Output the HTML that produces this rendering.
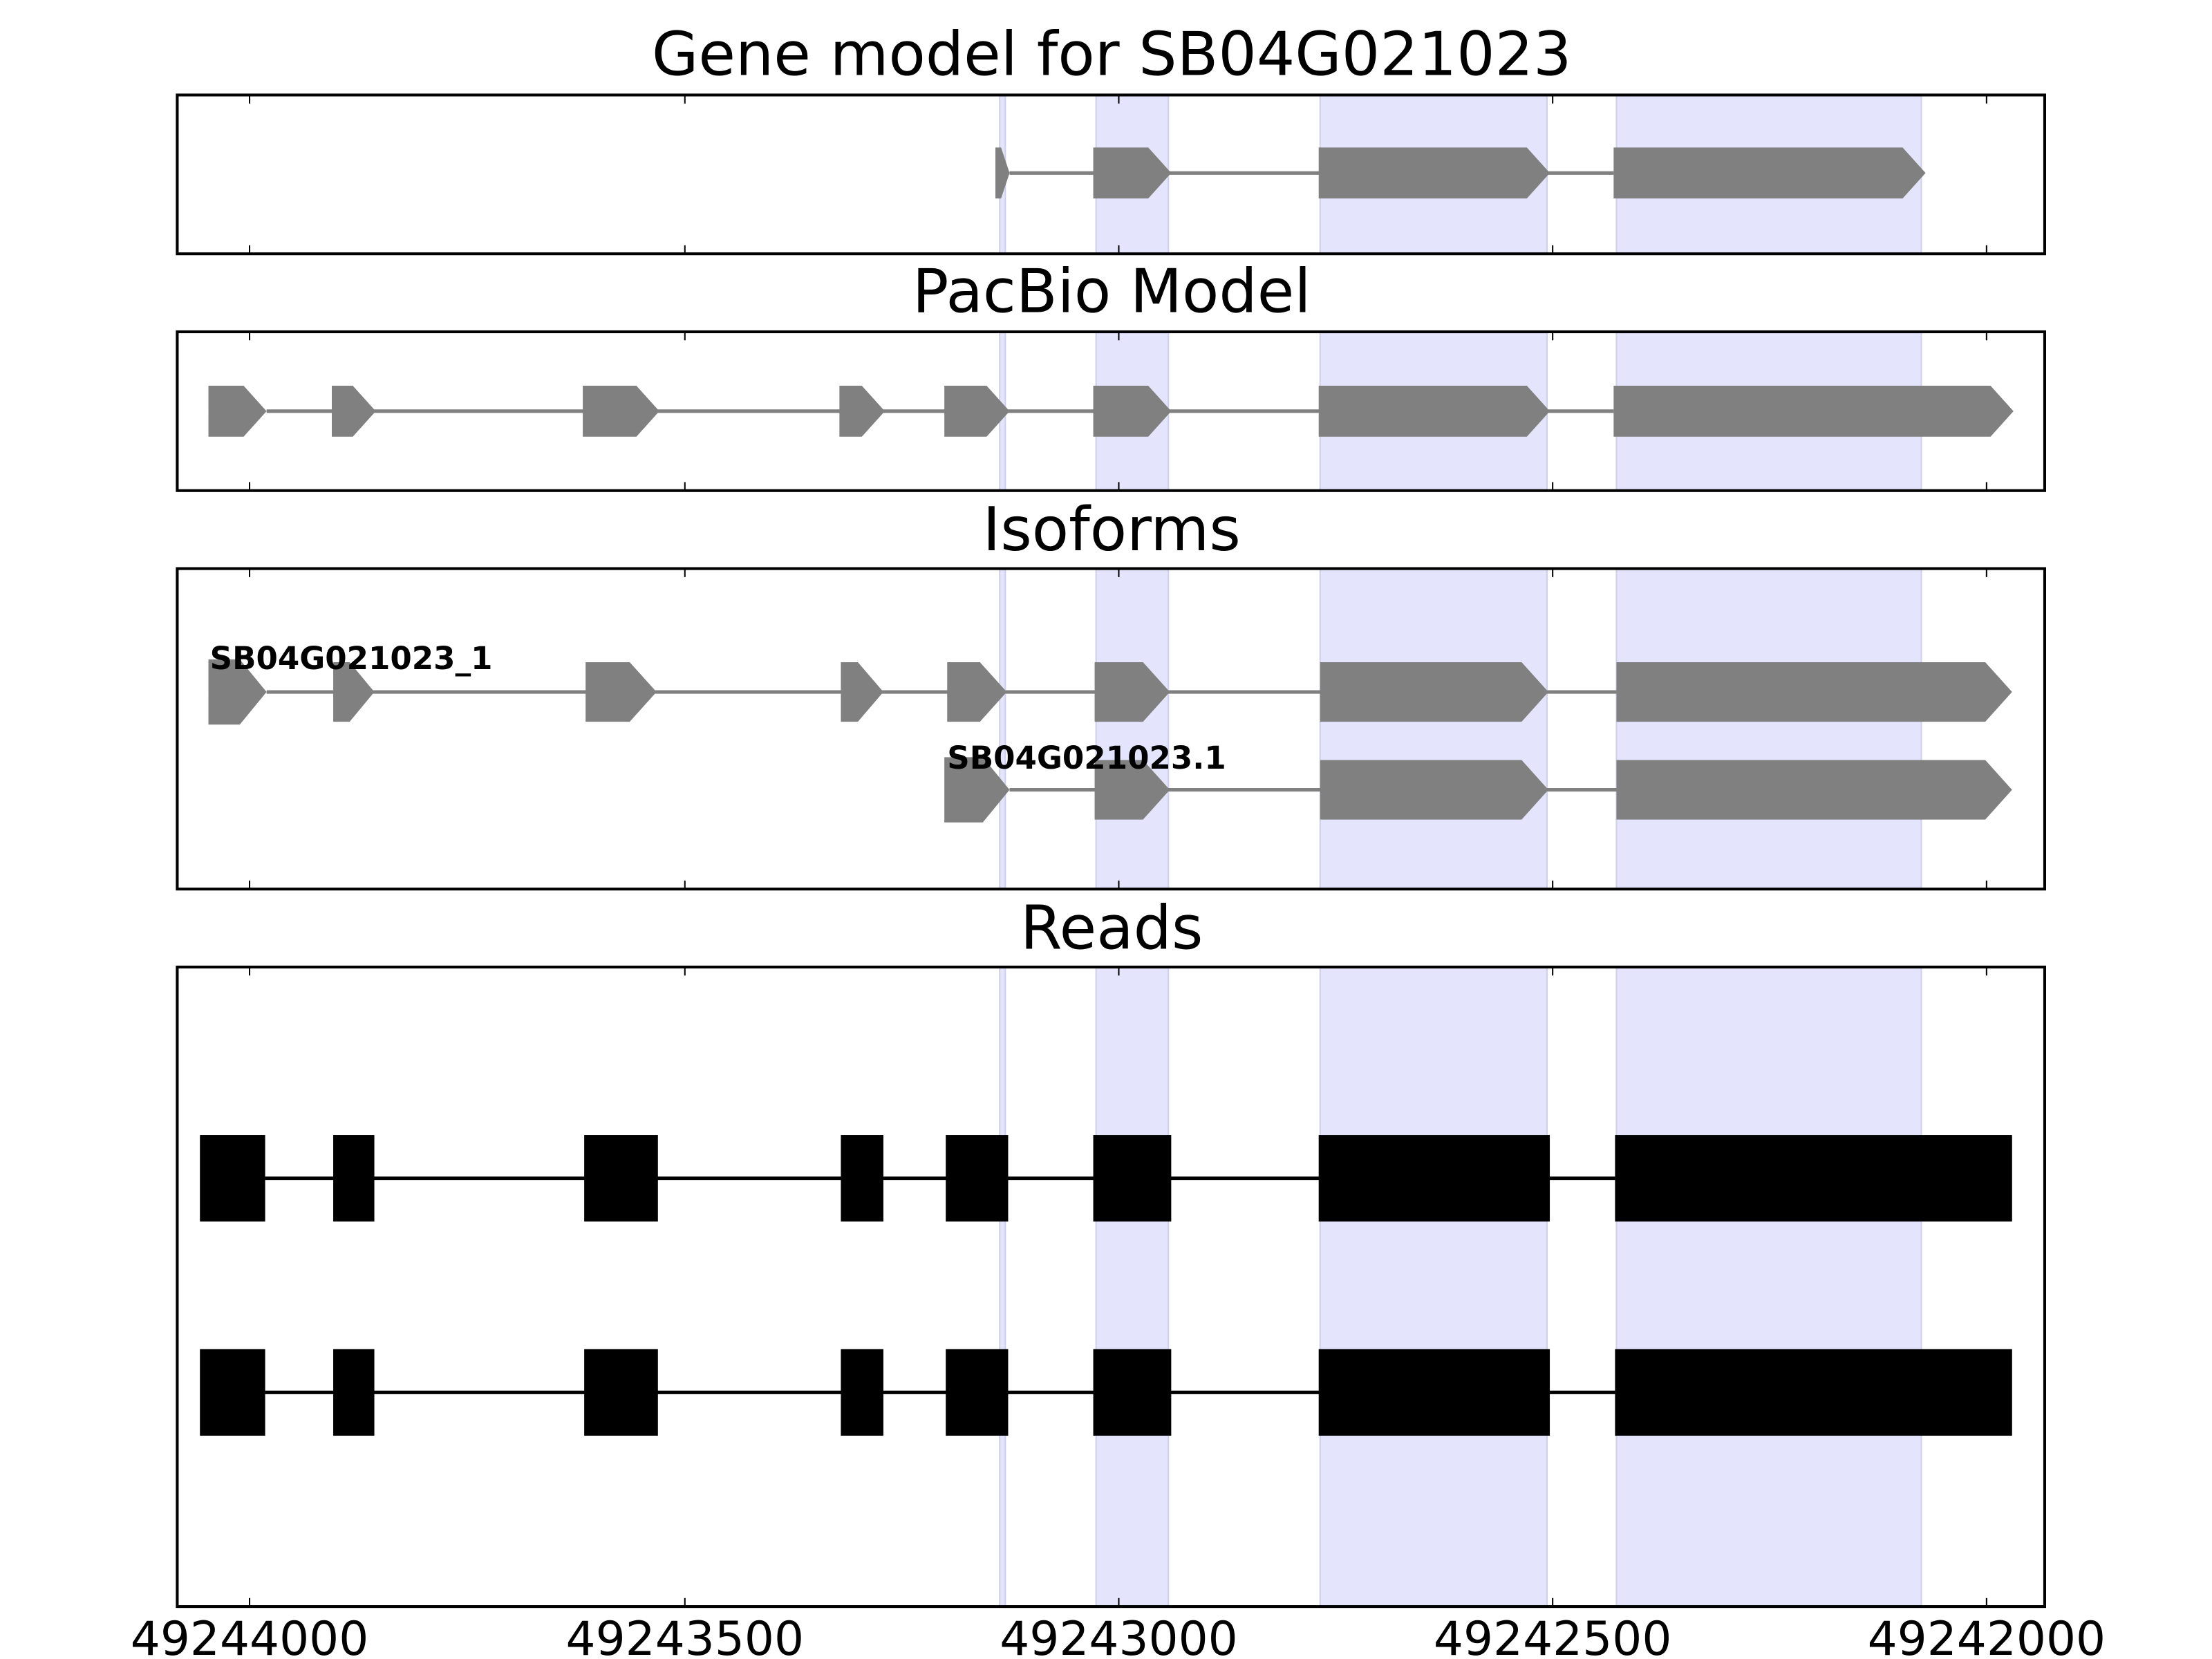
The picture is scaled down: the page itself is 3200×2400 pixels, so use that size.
<!DOCTYPE html>
<html><head><meta charset="utf-8"><style>html,body{margin:0;padding:0;background:#fff}svg{display:block}</style></head>
<body>
<svg id="s" width="3200" height="2400" viewBox="0 0 1560 1170" xmlns="http://www.w3.org/2000/svg" font-family="'DejaVu Sans','Liberation Sans',sans-serif"></svg>
<script>
const s=document.getElementById('s');let h='';
const panels=[[67,179,'Gene model for SB04G021023',38],[234,346,'PacBio Model',205],[401,627,'Isoforms',373],[682,1133,'Reads',654]];
const spans=[[705,709],[773,824],[931,1091],[1140,1355]];
const ticks=[176,483,789,1095,1401];
for(const [t,b,title,ty] of panels){
 for(const [a,c] of spans) h+=`<rect x="${a}" y="${t}" width="${c-a}" height="${b-t}" fill="#e4e4fd" stroke="#d0d0ec" stroke-width="1"/>`;
 for(const x of ticks) h+=`<line x1="${x}" y1="${t}" x2="${x}" y2="${t+6}" stroke="#000"/><line x1="${x}" y1="${b}" x2="${x}" y2="${b-6}" stroke="#000"/>`;
 h+=`<text x="784" y="${ty+15}" font-size="42.5" text-anchor="middle">${title}</text>`;
}
function gene(ex,cy,hh,col,arrow,firstH){
 let o=`<line x1="${ex[0][1]}" y1="${cy}" x2="${ex[ex.length-1][0]}" y2="${cy}" stroke="${col}" stroke-width="2.5"/>`;
 ex.forEach(([a,b],i)=>{
  const H=(i==0&&firstH)?firstH:hh;
  if(arrow){const p=Math.min(hh*0.5*0.9,(b-a)*0.6);
   o+=`<polygon points="${a},${cy-H/2} ${b-p},${cy-H/2} ${b},${cy} ${b-p},${cy+H/2} ${a},${cy+H/2}" fill="${col}"/>`;}
  else o+=`<rect x="${a}" y="${cy-H/2}" width="${b-a}" height="${H}" fill="${col}"/>`;
 });
 return o;
}
const g='#808080';
h+=gene([[702,712],[771,826],[930,1093],[1138,1358]],122,36,g,1);
h+=gene([[147,188],[234,265],[411,465],[592,624],[666,712],[771,826],[930,1093],[1138,1420]],290,36,g,1);
h+=gene([[147,188],[235,264],[413,463],[593,623],[668,710],[772,825],[931,1092],[1140,1419]],488,42,g,1,46);
h+=gene([[666,712],[772,825],[931,1092],[1140,1419]],557,42,g,1,46);
h+=`<text x="148" y="472" font-size="22" font-weight="bold">SB04G021023_1</text>`;
h+=`<text x="668" y="542" font-size="22" font-weight="bold">SB04G021023.1</text>`;
const rex=[[141,187],[235,264],[412,464],[593,623],[667,711],[771,826],[930,1093],[1139,1419]];
h+=gene(rex,831,61,'#000',0);h+=gene(rex,982,61,'#000',0);
for(const [t,b] of panels) h+=`<rect x="125" y="${t}" width="1317" height="${b-t}" fill="none" stroke="#000" stroke-width="2"/>`;
const lab=['49244000','49243500','49243000','49242500','49242000'];
ticks.forEach((x,i)=>h+=`<text x="${x}" y="1167" font-size="33" text-anchor="middle">${lab[i]}</text>`);
s.innerHTML=h;
</script>
</body></html>
